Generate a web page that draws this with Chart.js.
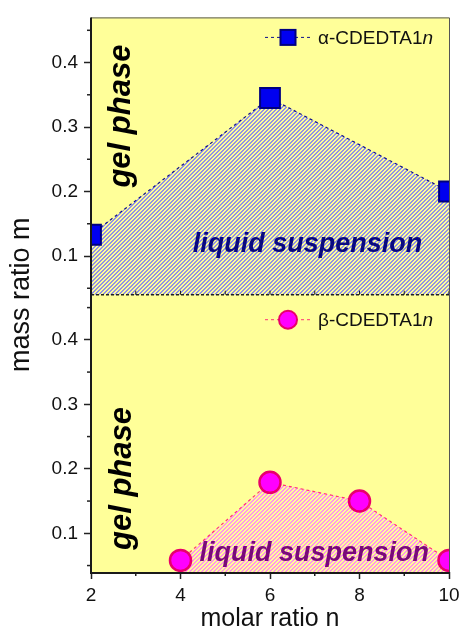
<!DOCTYPE html>
<html><head><meta charset="utf-8">
<script src="https://cdn.jsdelivr.net/npm/chart.js@4"></script>
<style>html,body{margin:0;padding:0;background:#fff;} #wrap{width:465px;height:634px;position:relative;}</style>
</head><body><div id="wrap"><canvas id="c" width="465" height="634"></canvas></div>
<script>
// ---- data ----
const molarA = [2, 6, 10];
const massA = [0.133, 0.345, 0.200];
const molarB = [4, 6, 8, 10];
const massB = [0.058, 0.179, 0.150, 0.058];
const seriesA = 'α-CDEDTA1';
const seriesB = 'β-CDEDTA1';
const seriesSuffix = 'n';
const xMajorTicks = [2, 4, 6, 8, 10];
const xMinorTicks = [3, 5, 7, 9];
const yMajorTicks = [0.1, 0.2, 0.3, 0.4];
const yMinorTicks = [0.05, 0.15, 0.25, 0.35, 0.45];
const xTitle = 'molar ratio n';
const yTitle = 'mass ratio m';
const regionGel = 'gel phase';
const regionLiquid = 'liquid suspension';

const FONT = '"Liberation Sans", Arial, sans-serif';
const canvas = document.getElementById('c');
const mainCtx = canvas.getContext('2d');

function hatch(color, gap) {
  const c = document.createElement('canvas');
  c.width = 8; c.height = 8;
  const g = c.getContext('2d');
  g.fillStyle = gap; g.fillRect(0, 0, 8, 8);
  g.fillStyle = color;
  for (let y = 0; y < 8; y++) for (let x = 0; x < 8; x++) if ((x + y) % 4 < 2) g.fillRect(x, y, 1, 1);
  return mainCtx.createPattern(c, 'repeat');
}

function yAxis() {
  return {
    type: 'linear', position: 'left', stack: 'panels', stackWeight: 1,
    min: 0.04, max: 0.47,
    afterBuildTicks: s => { s.ticks = yMajorTicks.map(v => ({ value: v })); },
    afterFit: s => { s.width = 91; },
    border: { display: false },
    grid: { drawOnChartArea: false, drawTicks: true, tickLength: 7, tickColor: '#222', tickWidth: 1.5 },
    ticks: { color: '#111', font: { family: FONT, size: 19 }, padding: 6, callback: v => v.toFixed(1) }
  };
}

const decor = {
  id: 'decor',
  beforeDraw(chart) {
    const { ctx, chartArea: a } = chart;
    ctx.save();
    ctx.fillStyle = '#ffff99';
    ctx.fillRect(a.left, a.top, a.right - a.left, a.bottom - a.top);
    ctx.restore();
  },
  afterDatasetsDraw(chart) {
    const { ctx, chartArea: a, scales } = chart;
    const xs = scales.x, yA = scales.yA, yB = scales.yB;
    ctx.save();
    function vtext(t, x, y, size, color) {
      ctx.save(); ctx.translate(x, y); ctx.rotate(-Math.PI / 2);
      ctx.font = 'italic bold ' + size + 'px ' + FONT; ctx.fillStyle = color;
      ctx.textAlign = 'center'; ctx.textBaseline = 'middle';
      ctx.fillText(t, 0, 0); ctx.restore();
    }
    function htext(t, x, y, size, color) {
      ctx.font = 'italic bold ' + size + 'px ' + FONT; ctx.fillStyle = color;
      ctx.textAlign = 'center'; ctx.textBaseline = 'middle';
      ctx.fillText(t, x, y);
    }
    vtext(regionGel, xs.getPixelForValue(2.69), yA.getPixelForValue(0.317), 31, '#000');
    vtext(regionGel, xs.getPixelForValue(2.70), yB.getPixelForValue(0.185), 31, '#000');
    htext(regionLiquid, xs.getPixelForValue(6.84), yA.getPixelForValue(0.117), 27, '#0a0a80');
    htext(regionLiquid, xs.getPixelForValue(6.99), yB.getPixelForValue(0.069), 27, '#7a0a7a');

    // separator between the two panels
    ctx.strokeStyle = '#222'; ctx.lineWidth = 1.5; ctx.setLineDash([3, 2]);
    ctx.beginPath(); ctx.moveTo(a.left, yA.bottom); ctx.lineTo(a.right, yA.bottom); ctx.stroke();
    ctx.setLineDash([]);
    ctx.lineWidth = 1;
    [...xMajorTicks, ...xMinorTicks].forEach(v => {
      const px = xs.getPixelForValue(v);
      ctx.beginPath(); ctx.moveTo(px, yA.bottom); ctx.lineTo(px, yA.bottom - 4); ctx.stroke();
    });
    // minor ticks
    ctx.strokeStyle = '#222'; ctx.lineWidth = 1.5;
    [yA, yB].forEach(s => yMinorTicks.forEach(v => {
      const py = s.getPixelForValue(v);
      if (py < s.top || py > s.bottom) return;
      ctx.beginPath(); ctx.moveTo(a.left - 4, py); ctx.lineTo(a.left, py); ctx.stroke();
    }));
    xMinorTicks.forEach(v => {
      const px = xs.getPixelForValue(v);
      ctx.beginPath(); ctx.moveTo(px, a.bottom); ctx.lineTo(px, a.bottom + 4); ctx.stroke();
    });
    // frame
    ctx.strokeStyle = '#555'; ctx.lineWidth = 1;
    ctx.beginPath(); ctx.moveTo(a.left, a.top + 0.5); ctx.lineTo(a.right + 0.5, a.top + 0.5); ctx.lineTo(a.right + 0.5, a.bottom); ctx.stroke();
    ctx.strokeStyle = '#1a1a1a'; ctx.lineWidth = 2;
    ctx.beginPath(); ctx.moveTo(a.left, a.top); ctx.lineTo(a.left, a.bottom + 1); ctx.lineTo(a.right + 1, a.bottom + 1); ctx.stroke();

    // legends
    function legend(yc, ds, name) {
      const xText = a.right - 131;
      ctx.strokeStyle = ds.borderColor; ctx.lineWidth = 1; ctx.setLineDash([3, 3]);
      ctx.beginPath(); ctx.moveTo(a.right - 184, yc); ctx.lineTo(a.right - 139, yc); ctx.stroke();
      ctx.setLineDash([]);
      const mx = a.right - 161;
      ctx.fillStyle = ds.pointBackgroundColor; ctx.strokeStyle = ds.pointBorderColor; ctx.lineWidth = 2;
      if (ds.pointStyle === 'rect') {
        ctx.fillRect(mx - 7.5, yc - 7.5, 15, 15); ctx.strokeRect(mx - 7.5, yc - 7.5, 15, 15);
      } else {
        ctx.beginPath(); ctx.arc(mx, yc, 9, 0, Math.PI * 2); ctx.fill(); ctx.stroke();
      }
      ctx.fillStyle = '#111'; ctx.textAlign = 'left'; ctx.textBaseline = 'middle';
      ctx.font = '19px ' + FONT; ctx.fillText(name, xText, yc + 1);
      const w = ctx.measureText(name).width;
      ctx.font = 'italic 19px ' + FONT; ctx.fillText(seriesSuffix, xText + w, yc + 1);
    }
    legend(yA.top + 20, chart.data.datasets[0], seriesA);
    legend(yB.top + 25, chart.data.datasets[1], seriesB);

    // shared y title
    ctx.save(); ctx.translate(22, (a.top + a.bottom) / 2); ctx.rotate(-Math.PI / 2);
    ctx.font = '27px ' + FONT; ctx.fillStyle = '#111'; ctx.textAlign = 'center'; ctx.textBaseline = 'middle';
    ctx.fillText(yTitle, 0, 0); ctx.restore();
    ctx.restore();
  }
};

new Chart(canvas, {
  type: 'line',
  data: {
    datasets: [
      {
        label: seriesA + seriesSuffix,
        data: molarA.map((n, i) => ({ x: n, y: massA[i] })),
        yAxisID: 'yA',
        borderColor: '#10108a', borderWidth: 1.2, borderDash: [3, 3],
        backgroundColor: hatch('#9393e4', '#ffff99'), fill: 'start',
        pointStyle: 'rect', pointRadius: 14, pointHoverRadius: 14,
        pointBackgroundColor: '#0000f0', pointBorderColor: '#000080', pointBorderWidth: 2,
        tension: 0
      },
      {
        label: seriesB + seriesSuffix,
        data: molarB.map((n, i) => ({ x: n, y: massB[i] })),
        yAxisID: 'yB',
        borderColor: '#ff3377', borderWidth: 1.2, borderDash: [3, 3],
        backgroundColor: hatch('#ff99e6', '#ffff99'), fill: 'start',
        pointStyle: 'circle', pointRadius: 10.5, pointHoverRadius: 10.5,
        pointBackgroundColor: '#ff00ff', pointBorderColor: '#e8006a', pointBorderWidth: 2.5,
        tension: 0
      }
    ]
  },
  options: {
    responsive: false, animation: false,
    layout: { padding: { top: 14, right: 10, left: 0, bottom: 0 } },
    plugins: { legend: { display: false }, tooltip: { enabled: false } },
    scales: {
      x: {
        type: 'linear', position: 'bottom', min: 2, max: 10,
        afterBuildTicks: s => { s.ticks = xMajorTicks.map(v => ({ value: v })); },
        afterFit: s => { s.height = 62; s.paddingLeft = 0; s.paddingRight = 0; },
        border: { display: false },
        grid: { drawOnChartArea: false, drawTicks: true, tickLength: 7, tickColor: '#222', tickWidth: 1.5 },
        ticks: { color: '#111', font: { family: FONT, size: 19 }, padding: 5, maxRotation: 0, autoSkip: false },
        title: { display: true, text: xTitle, color: '#111', font: { family: FONT, size: 25 }, padding: { top: 0, bottom: 0 } }
      },
      yB: yAxis(),
      yA: yAxis()
    }
  },
  plugins: [decor]
});
</script>
</body></html>
